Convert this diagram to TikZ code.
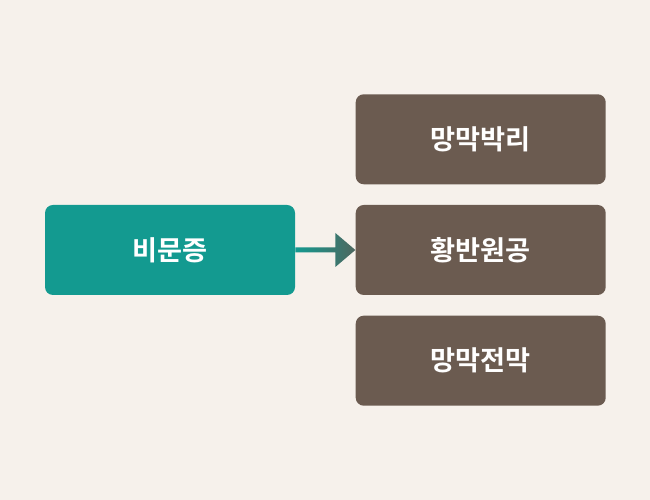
\documentclass[tikz,border=0pt]{standalone}
\usepackage{fontspec}
\newfontfamily\kofont{Noto Sans CJK KR}[BoldFont={Noto Sans CJK KR Bold}]
\usetikzlibrary{positioning,calc}
\definecolor{bgcol}{HTML}{F6F1EB}
\definecolor{tealbox}{HTML}{139A90}
\definecolor{brownbox}{HTML}{6B5B50}
\definecolor{headcol}{HTML}{4E675F}
\tikzset{
    kasten/.style={
           rectangle,
           rounded corners=0.16cm,
           minimum width=5cm,
           minimum height=1.8cm,
           inner sep=0pt,
           text=white,
           font=\kofont\bfseries\fontsize{15.5}{17}\selectfont,
           text centered},
    symptom/.style={kasten, fill=tealbox},
    befund/.style={kasten, fill=brownbox}
}
\begin{document}
\begin{tikzpicture}[node distance=0.4cm]
        \fill[bgcol] (0,0) rectangle (13,10);
        \useasboundingbox (0,0) rectangle (13,10);

        \node[symptom] (vis) at (3.4,5) {비문증};
        \node[befund, right=1.2cm of vis] (fleck) {황반원공};
        \node[befund, above=of fleck] (abl) {망막박리};
        \node[befund, below=of fleck] (blut) {망막전막};

        % Pfeil mit Verlauf
        \shade[left color=tealbox, right color=headcol]
            ($(vis.east)+(0,0.05)$) -- ($(fleck.west)+(-0.4,0.05)$)
            -- ($(fleck.west)+(-0.4,0.34)$) -- (fleck.west)
            -- ($(fleck.west)+(-0.4,-0.34)$) -- ($(fleck.west)+(-0.4,-0.05)$)
            -- ($(vis.east)+(0,-0.05)$) -- cycle;
\end{tikzpicture}
\end{document}
